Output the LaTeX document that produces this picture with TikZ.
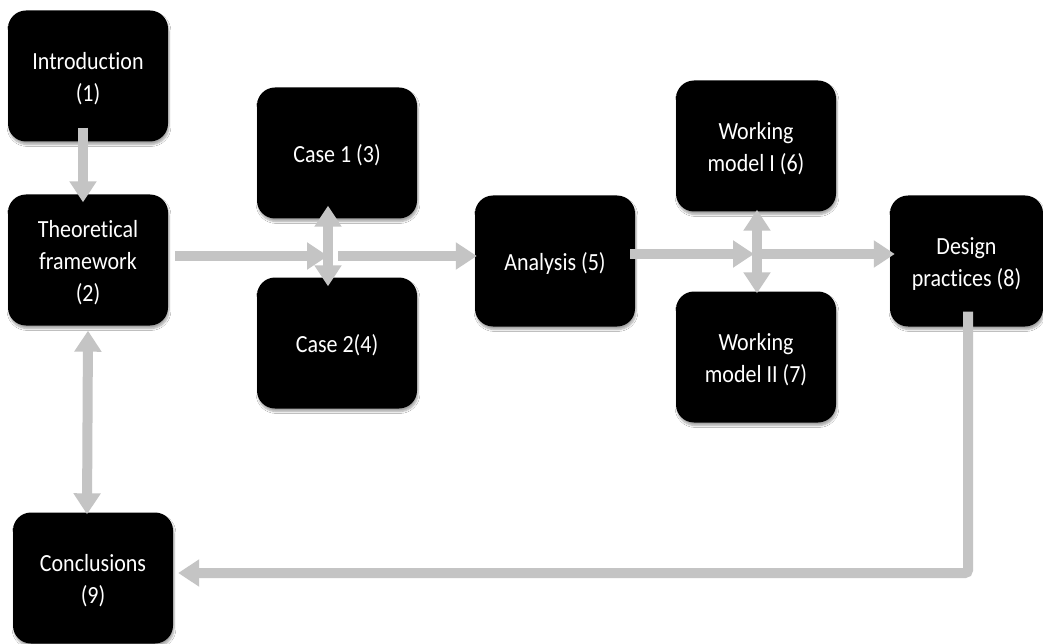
\documentclass[tikz,border=0pt]{standalone}
\usepackage{fontspec}
\setmainfont{Carlito}[Ligatures=NoCommon]
\usetikzlibrary{arrows.meta,shadows.blur}
\definecolor{linkgray}{HTML}{C4C4C4}
% box labels: centred lines, set slightly tall and a little low
\newcommand{\boxlabel}[1]{\raisebox{-3.5pt}[\height][\depth]{\scalebox{1}[1.12]{\begin{tabular}{@{}c@{}}#1\end{tabular}}}}
\tikzset{
  box/.style={fill=black, rounded corners=18pt, minimum width=160pt,
    minimum height=131pt, inner sep=0pt, text=white,
    font=\fontsize{22pt}{28.5pt}\selectfont,
    blur shadow={shadow xshift=1pt, shadow yshift=-3pt, shadow blur steps=6, shadow opacity=35}},
  link/.style={draw=linkgray, line width=10pt},
  tip/.style={-{Triangle[width=26pt,length=21pt]}},
  twotips/.style={{Triangle[width=26pt,length=21pt]}-{Triangle[width=26pt,length=21pt]}}
}
\begin{document}
\begin{tikzpicture}[x=1pt,y=-1pt]
\useasboundingbox (0,0) rectangle (1043,644);
\fill[white] (0,0) rectangle (1043,644);

% chapters
\node[box] (intro)  at (88,76)    {\boxlabel{Introduction\\(1)}};
\node[box] (theo)   at (88,260)   {\boxlabel{Theoretical\\framework\\(2)}};
\node[box] (case1)  at (337,153)  {\boxlabel{Case 1 (3)}};
\node[box] (case2)  at (337,343)  {\boxlabel{Case 2(4)}};
\node[box] (ana)    at (555,261)  {\boxlabel{Analysis (5)}};
\node[box] (wm1)    at (756,146)  {\boxlabel{Working\\model I (6)}};
\node[box] (wm2)    at (756,357)  {\boxlabel{Working\\model II (7)}};
\node[box, minimum width=153pt] (design) at (966.5,261) {\boxlabel{Design\\practices (8)}};
\node[box] (concl)  at (93,578)   {\boxlabel{Conclusions\\(9)}};

% junctions where the flow splits
\coordinate (j1) at (328,256);
\coordinate (j2) at (754,254);

% connectors
\draw[link,tip] ([shift={(-5pt,14pt)}]intro.south) -- ([shift={(-5pt,-8pt)}]theo.north);
\draw[link,tip] ([shift={(7pt,4pt)}]theo.east) -- (j1);
\draw[link,tip] ([xshift=10pt]j1) -- ([shift={(2pt,5pt)}]ana.west);
\draw[link,twotips] ([shift={(-9pt,13pt)}]case1.south) -- ([shift={(-9pt,-9pt)}]case2.north);
\draw[link,tip] ([shift={(-5pt,7pt)}]ana.east) -- (j2);
\draw[link,tip] (j2) -- ([shift={(5pt,7pt)}]design.west);
\draw[link,twotips] ([shift={(1pt,2pt)}]wm1.south) -- ([shift={(1pt,-2pt)}]wm2.north);
\draw[link,tip,rounded corners=3pt] ([shift={(1.5pt,15pt)}]design.south) |- ([shift={(5pt,5pt)}]concl.east);
\draw[link,twotips] ([yshift=-5pt]theo.south) -- ([shift={(-6pt,-2pt)}]concl.north);
\end{tikzpicture}
\end{document}
